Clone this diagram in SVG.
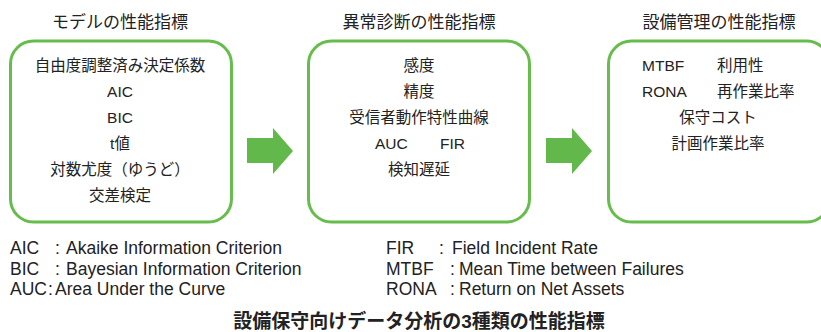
<svg xmlns="http://www.w3.org/2000/svg" width="821" height="332" viewBox="0 0 821 332">
<style>
.box{fill:#fff;stroke:#66bd4c;stroke-width:3}
.arrow{fill:#62b84a}
.t{font-family:"Liberation Sans","Noto Sans CJK JP",sans-serif;fill:#222}
.h{font-size:17px;text-anchor:middle}
.b{font-size:15.5px}
.c{text-anchor:middle}
.l{font-size:17.5px}
.ft{font-size:19px;font-weight:bold;text-anchor:middle}
</style>
<rect width="821" height="332" fill="#fff"/>
<g id="node-model">
<text class="t h" x="120" y="28">モデルの性能指標</text>
<rect class="box" x="10.5" y="41" width="221" height="181" rx="23"/>
<text class="t b c" x="120" y="71">自由度調整済み決定係数</text>
<text class="t b c" x="120" y="97">AIC</text>
<text class="t b c" x="120" y="123">BIC</text>
<text class="t b c" x="120" y="149">t値</text>
<text class="t b c" x="120" y="175">対数尤度（ゆうど）</text>
<text class="t b c" x="120" y="201">交差検定</text>
</g>
<g id="node-anomaly">
<text class="t h" x="419" y="28">異常診断の性能指標</text>
<rect class="box" x="308.5" y="41" width="221" height="181" rx="23"/>
<text class="t b c" x="419" y="71">感度</text>
<text class="t b c" x="419" y="97">精度</text>
<text class="t b c" x="419" y="123">受信者動作特性曲線</text>
<text class="t b" x="375" y="149">AUC</text>
<text class="t b" x="440" y="149">FIR</text>
<text class="t b c" x="419" y="175">検知遅延</text>
</g>
<g id="node-equipment">
<text class="t h" x="719" y="28">設備管理の性能指標</text>
<rect class="box" x="608.5" y="41" width="221" height="181" rx="23"/>
<text class="t b" x="642" y="71">MTBF</text>
<text class="t b" x="717" y="71">利用性</text>
<text class="t b" x="642" y="97">RONA</text>
<text class="t b" x="717" y="97">再作業比率</text>
<text class="t b c" x="718" y="123">保守コスト</text>
<text class="t b c" x="718" y="149">計画作業比率</text>
</g>
<g id="connectors">
<polygon class="arrow" points="247,138 273,138 273,128 293,151 273,174 273,163 247,163"/>
<polygon class="arrow" points="546,138 572,138 572,128 592,151 572,174 572,163 546,163"/>
</g>
<g id="legend">
<text class="t l" y="254"><tspan x="10">AIC</tspan><tspan x="55">:</tspan><tspan x="66">Akaike Information Criterion</tspan></text>
<text class="t l" y="275"><tspan x="10">BIC</tspan><tspan x="55">:</tspan><tspan x="66">Bayesian Information Criterion</tspan></text>
<text class="t l" y="295"><tspan x="10">AUC</tspan><tspan x="48">:</tspan><tspan x="55">Area Under the Curve</tspan></text>
<text class="t l" y="254"><tspan x="386">FIR</tspan><tspan x="439">:</tspan><tspan x="452">Field Incident Rate</tspan></text>
<text class="t l" y="275"><tspan x="386">MTBF</tspan><tspan x="450">:</tspan><tspan x="459">Mean Time between Failures</tspan></text>
<text class="t l" y="295"><tspan x="386">RONA</tspan><tspan x="450">:</tspan><tspan x="459">Return on Net Assets</tspan></text>
</g>
<text class="t ft" x="419" y="328">設備保守向けデータ分析の3種類の性能指標</text>
</svg>
